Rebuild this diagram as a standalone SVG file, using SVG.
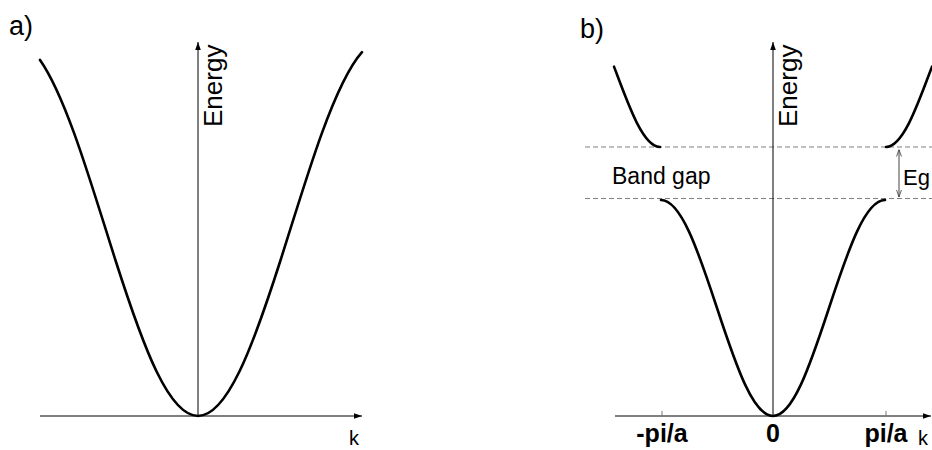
<svg xmlns="http://www.w3.org/2000/svg" width="932" height="450" viewBox="0 0 932 450">
<style>
text{font-family:"Liberation Sans",Arial,sans-serif;fill:#000}
.lbl{font-size:27px}
.en{font-size:26px}
.ax{stroke:#000;stroke-width:1;fill:none}
.band{stroke:#000;stroke-width:2.6;fill:none;stroke-linecap:round}
.dash{stroke:#808080;stroke-width:1;stroke-dasharray:5 3;fill:none}
.tick{stroke:#777;stroke-width:1}
.kv{font-size:25px;font-weight:bold}
.kk{font-size:20px}
</style>
<defs>
<marker id="ah" viewBox="0 0 10 10" refX="10" refY="5" markerWidth="8" markerHeight="8" markerUnits="userSpaceOnUse" orient="auto">
<path d="M0,1.5 L10,5 L0,8.5 z" fill="#000"/>
</marker>
<marker id="sh" viewBox="0 0 10 10" refX="10" refY="5" markerWidth="7" markerHeight="7" markerUnits="userSpaceOnUse" orient="auto-start-reverse">
<path d="M0,1.5 L10,5 L0,8.5" fill="none" stroke="#444" stroke-width="1.2"/>
</marker>
</defs>

<g id="panel-a">
<text class="lbl" x="9" y="35">a)</text>
<g id="axes-a">
<line class="ax" x1="40" y1="416" x2="362" y2="416" marker-end="url(#ah)"/>
<line class="ax" x1="198" y1="416" x2="198" y2="42" marker-end="url(#ah)"/>
</g>
<text class="en" transform="translate(222,127) rotate(-90)">Energy</text>
<text class="kk" x="349" y="445">k</text>
<path id="band-a" class="band" d="M40,59.9 C51.4,76.1 62.7,101.8 74.1,133.1 C87.9,171.0 101.6,216.8 115.4,260.0 C129.2,303.2 142.9,343.5 156.7,371.8 C170.5,400.1 184.2,416 198,416 C211.8,416 225.5,400.1 239.3,371.8 C253.1,343.5 266.8,303.2 280.6,260.0 C294.4,216.8 308.1,171.0 321.9,133.1 C335.3,96.3 348.6,67.2 362.0,52.1"/>
</g>

<g id="panel-b">
<text class="lbl" x="580" y="38">b)</text>
<g id="gap-lines">
<line class="dash" x1="585" y1="147" x2="932" y2="147"/>
<line class="dash" x1="585" y1="198.5" x2="932" y2="198.5"/>
</g>
<g id="axes-b">
<line class="ax" x1="615" y1="416" x2="931" y2="416" marker-end="url(#ah)"/>
<line class="ax" x1="773" y1="416" x2="773" y2="42" marker-end="url(#ah)"/>
<line class="tick" x1="662" y1="411" x2="662" y2="416"/>
<line class="tick" x1="886" y1="411" x2="886" y2="416"/>
</g>
<text class="en" transform="translate(797,127) rotate(-90)">Energy</text>
<g id="lower-band">
<path class="band" d="M661,200 C670.3,200 679.7,211.6 689.0,231.6 C698.3,251.6 707.7,279.7 717.0,308 C726.3,336.3 735.7,364.4 745.0,384.4 C754.3,404.4 763.7,416 773,416 C782.3,416 791.7,404.4 801.0,384.4 C810.3,364.4 819.7,336.3 829.0,308 C838.3,279.7 847.7,251.6 857.0,231.6 C866.3,211.6 875.7,200 885,200"/>
</g>
<g id="upper-band">
<path class="band" d="M614,66.6 C621.7,87.1 629.3,108.1 637,123.1 C644.7,138.1 652.3,147 660,147"/>
<path class="band" d="M886,147 C893.7,147 901.3,138.1 909,123.1 C916.7,108.1 924.3,87.1 932,66.6"/>
</g>
<g id="gap-label">
<text x="612" y="184" style="font-size:23px">Band gap</text>
</g>
<g id="eg">
<line x1="899" y1="149.5" x2="899" y2="197" stroke="#444" stroke-width="1" marker-start="url(#sh)" marker-end="url(#sh)"/>
<text x="903" y="185" style="font-size:22px">Eg</text>
</g>
<g id="k-labels">
<text class="kv" x="662" y="442" text-anchor="middle">-pi/a</text>
<text class="kv" x="773" y="442" text-anchor="middle">0</text>
<text class="kv" x="886" y="442" text-anchor="middle">pi/a</text>
<text class="kk" x="918" y="445">k</text>
</g>
</g>
</svg>
